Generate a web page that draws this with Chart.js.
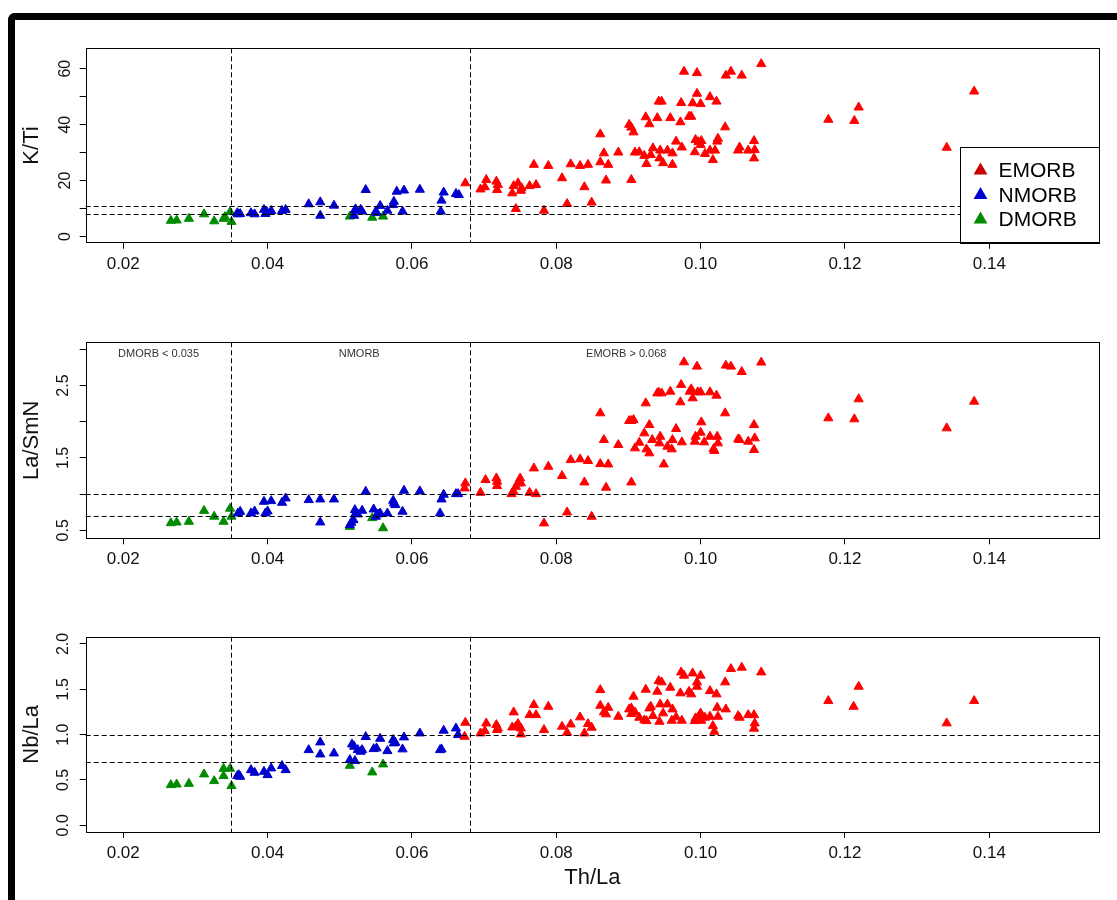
<!DOCTYPE html>
<html>
<head>
<meta charset="utf-8">
<script src="https://cdn.jsdelivr.net/npm/chart.js@4.4.1/dist/chart.umd.min.js"></script>
<style>
  html, body { margin: 0; padding: 0; background: #fff; }
  body { width: 1117px; height: 900px; position: relative; overflow: hidden; }
  #frame { position: absolute; left: 8px; top: 13px; width: 1200px; height: 1000px;
           border-top: 7px solid #000; border-left: 7px solid #000; border-top-left-radius: 7px; }
  canvas { position: absolute; left: 0; }
</style>
</head>
<body>
<div id="frame"></div>
<canvas id="kti" width="1117" height="290" style="top:0px"></canvas>
<canvas id="lasm" width="1117" height="300" style="top:290px"></canvas>
<canvas id="nbla" width="1117" height="310" style="top:590px"></canvas>
<script>
'use strict';

// groups and shared axis values
const groups = ['EMORB', 'NMORB', 'DMORB'];
const xTicks = [0.02, 0.04, 0.06, 0.08, 0.10, 0.12, 0.14];
const boundaries = [0.035, 0.068];

const ktiTicks = [0, 10, 20, 30, 40, 50, 60];
const ktiLabelled = [0, 20, 40, 60];
const ktiCutoffs = [8, 11];

const lasmTicks = [0.5, 1.0, 1.5, 2.0, 2.5, 3.0];
const lasmLabelled = [0.5, 1.5, 2.5];
const lasmCutoffs = [0.7, 1.0];

const nblaTicks = [0.0, 0.5, 1.0, 1.5, 2.0];
const nblaLabelled = [0.0, 0.5, 1.0, 1.5, 2.0];
const nblaCutoffs = [0.7, 1.0];

const regionNotes = ['DMORB < 0.035', 'NMORB', 'EMORB > 0.068'];

// [Th/La, K/Ti]
const ktiDmorb = [[0.0266,5.7],[0.0274,5.8],[0.0291,6.4],[0.0312,8.0],[0.0326,5.5],[0.0339,6.4],[0.0341,7.0],[0.0348,8.8],[0.0350,5.3],[0.0514,7.2],[0.0545,6.8],[0.0560,7.2]];
const ktiNmorb = [[0.0358,8.4],[0.0362,8.1],[0.0359,8.0],[0.0377,8.4],[0.0382,8.0],[0.0395,9.6],[0.0397,8.1],[0.0399,8.8],[0.0405,9.2],[0.0420,9.2],[0.0425,9.6],[0.0457,11.6],[0.0473,12.3],[0.0473,7.5],[0.0492,11.1],[0.0520,7.5],[0.0521,9.4],[0.0522,9.8],[0.0529,9.6],[0.0531,9.0],[0.0536,16.7],[0.0550,9.0],[0.0551,8.5],[0.0556,11.0],[0.0566,9.3],[0.0574,11.3],[0.0575,12.5],[0.0579,16.1],[0.0587,9.0],[0.0589,16.5],[0.0611,16.8],[0.0640,9.0],[0.0641,12.9],[0.0644,15.8],[0.0661,15.3],[0.0665,14.9]];
const ktiEmorb = [[0.0674,19.1],[0.0695,16.9],[0.0701,17.7],[0.0703,20.3],[0.0717,19.7],[0.0719,18.5],[0.0718,16.7],[0.0739,15.5],[0.0741,18.1],[0.0747,19.1],[0.0751,16.4],[0.0752,17.3],[0.0744,9.9],[0.0763,18.1],[0.0772,18.5],[0.0769,25.7],[0.0789,25.3],[0.0783,9.3],[0.0808,20.9],[0.0815,11.7],[0.0820,25.9],[0.0833,25.3],[0.0844,25.7],[0.0839,17.7],[0.0849,12.2],[0.0861,36.6],[0.0861,26.6],[0.0866,29.8],[0.0872,25.7],[0.0869,20.1],[0.0886,30.1],[0.0901,40.0],[0.0904,39.0],[0.0907,37.3],[0.0904,20.3],[0.0909,30.1],[0.0915,30.2],[0.0922,28.9],[0.0931,29.2],[0.0934,31.6],[0.0925,26.0],[0.0924,42.7],[0.0929,40.2],[0.0940,42.4],[0.0942,48.3],[0.0946,48.3],[0.0944,30.8],[0.0943,28.0],[0.0948,26.3],[0.0954,30.8],[0.0961,29.8],[0.0961,25.7],[0.0958,42.4],[0.0966,34.0],[0.0974,31.9],[0.0972,40.9],[0.0973,47.8],[0.0977,59.0],[0.0989,47.7],[0.0984,42.9],[0.0987,42.9],[0.0995,58.5],[0.0995,51.1],[0.1000,47.4],[0.0993,34.6],[0.0997,33.8],[0.1000,32.8],[0.1001,34.2],[0.0992,30.2],[0.1013,49.9],[0.1022,48.3],[0.1006,29.6],[0.1013,30.8],[0.1020,30.8],[0.1017,27.4],[0.1023,34.0],[0.1024,35.0],[0.1034,39.1],[0.1035,57.6],[0.1042,59.0],[0.1057,57.6],[0.1052,30.8],[0.1054,31.9],[0.1066,30.8],[0.1074,34.2],[0.1075,31.0],[0.1074,28.0],[0.1084,61.7],[0.1177,41.8],[0.1213,41.4],[0.1219,46.2],[0.1341,31.8],[0.1379,51.9]];

// [Th/La, La/SmN]
const lasmDmorb = [[0.0266,0.60],[0.0274,0.61],[0.0291,0.62],[0.0312,0.77],[0.0326,0.69],[0.0339,0.62],[0.0348,0.80],[0.0350,0.69],[0.0514,0.55],[0.0545,0.67],[0.0560,0.53]];
const lasmNmorb = [[0.0359,0.735],[0.0362,0.758],[0.0377,0.735],[0.0382,0.762],[0.0395,0.896],[0.0397,0.735],[0.0400,0.762],[0.0405,0.905],[0.0420,0.882],[0.0425,0.942],[0.0457,0.919],[0.0473,0.928],[0.0473,0.610],[0.0492,0.928],[0.0514,0.573],[0.0516,0.606],[0.0519,0.642],[0.0521,0.781],[0.0522,0.735],[0.0525,0.721],[0.0531,0.772],[0.0536,1.034],[0.0547,0.790],[0.0550,0.689],[0.0553,0.721],[0.0556,0.735],[0.0566,0.735],[0.0574,0.910],[0.0575,0.873],[0.0577,0.850],[0.0587,0.758],[0.0589,1.048],[0.0611,1.039],[0.0639,0.735],[0.0641,0.928],[0.0644,0.993],[0.0661,1.002],[0.0664,1.002]];
const lasmEmorb = [[0.0674,1.150],[0.0673,1.080],[0.0695,1.020],[0.0702,1.196],[0.0717,1.219],[0.0718,1.173],[0.0718,1.113],[0.0738,1.002],[0.0741,1.034],[0.0744,1.103],[0.0747,1.150],[0.0750,1.219],[0.0751,1.150],[0.0763,1.020],[0.0772,1.002],[0.0769,1.357],[0.0789,1.380],[0.0783,0.597],[0.0808,1.251],[0.0815,0.749],[0.0820,1.472],[0.0833,1.482],[0.0844,1.459],[0.0839,1.163],[0.0849,0.689],[0.0861,2.118],[0.0861,1.417],[0.0866,1.749],[0.0872,1.412],[0.0869,1.090],[0.0886,1.680],[0.0901,2.012],[0.0904,2.012],[0.0907,2.026],[0.0904,1.163],[0.0909,1.634],[0.0915,1.712],[0.0922,1.841],[0.0925,1.620],[0.0929,1.565],[0.0933,1.749],[0.0924,2.256],[0.0929,1.956],[0.0940,2.394],[0.0942,2.404],[0.0946,2.394],[0.0944,1.795],[0.0943,1.703],[0.0949,1.412],[0.0954,1.657],[0.0961,1.749],[0.0960,1.620],[0.0958,2.417],[0.0966,1.901],[0.0974,1.717],[0.0972,2.270],[0.0973,2.510],[0.0977,2.823],[0.0985,2.417],[0.0987,2.450],[0.0989,2.325],[0.0995,2.763],[0.0996,2.408],[0.1000,2.408],[0.0993,1.795],[0.0992,1.726],[0.1001,1.993],[0.1000,1.850],[0.1005,1.717],[0.1013,2.408],[0.1022,2.362],[0.1013,1.795],[0.1018,1.624],[0.1019,1.597],[0.1023,1.795],[0.1024,1.703],[0.1034,2.118],[0.1035,2.777],[0.1042,2.763],[0.1057,2.689],[0.1052,1.758],[0.1054,1.749],[0.1066,1.726],[0.1074,1.956],[0.1075,1.772],[0.1074,1.611],[0.1084,2.819],[0.1177,2.049],[0.1213,2.035],[0.1219,2.312],[0.1341,1.911],[0.1379,2.279]];

// [Th/La, Nb/La]
const nblaDmorb = [[0.0266,0.445],[0.0274,0.452],[0.0291,0.459],[0.0312,0.563],[0.0326,0.489],[0.0339,0.544],[0.0339,0.625],[0.0348,0.625],[0.0350,0.434],[0.0514,0.658],[0.0545,0.585],[0.0560,0.673]];
const nblaNmorb = [[0.0360,0.555],[0.0362,0.537],[0.0358,0.544],[0.0377,0.610],[0.0382,0.581],[0.0395,0.592],[0.0400,0.555],[0.0405,0.629],[0.0420,0.655],[0.0425,0.610],[0.0457,0.831],[0.0473,0.916],[0.0473,0.783],[0.0492,0.794],[0.0514,0.721],[0.0521,0.710],[0.0517,0.894],[0.0520,0.868],[0.0525,0.831],[0.0529,0.813],[0.0531,0.831],[0.0536,0.975],[0.0547,0.842],[0.0551,0.850],[0.0556,0.956],[0.0566,0.820],[0.0574,0.942],[0.0575,0.905],[0.0577,0.912],[0.0587,0.839],[0.0589,0.971],[0.0611,1.015],[0.0639,0.831],[0.0641,0.839],[0.0644,1.045],[0.0661,1.070],[0.0664,0.997]];
const nblaEmorb = [[0.0674,1.133],[0.0673,0.978],[0.0695,1.015],[0.0701,1.041],[0.0703,1.125],[0.0717,1.107],[0.0719,1.070],[0.0718,1.052],[0.0739,1.081],[0.0741,1.247],[0.0744,1.089],[0.0747,1.118],[0.0751,1.070],[0.0751,1.004],[0.0763,1.217],[0.0772,1.217],[0.0769,1.328],[0.0789,1.309],[0.0783,1.052],[0.0808,1.089],[0.0815,1.022],[0.0820,1.114],[0.0833,1.192],[0.0839,1.015],[0.0844,1.118],[0.0849,1.078],[0.0861,1.493],[0.0861,1.320],[0.0866,1.247],[0.0872,1.298],[0.0869,1.225],[0.0886,1.199],[0.0901,1.280],[0.0904,1.291],[0.0907,1.420],[0.0904,1.229],[0.0909,1.247],[0.0915,1.188],[0.0922,1.159],[0.0924,1.497],[0.0929,1.291],[0.0931,1.309],[0.0934,1.206],[0.0925,1.151],[0.0940,1.475],[0.0942,1.593],[0.0946,1.578],[0.0944,1.335],[0.0943,1.144],[0.0948,1.236],[0.0954,1.335],[0.0961,1.280],[0.0960,1.155],[0.0958,1.519],[0.0966,1.192],[0.0974,1.155],[0.0972,1.457],[0.0973,1.688],[0.0977,1.652],[0.0984,1.475],[0.0987,1.446],[0.0989,1.677],[0.0995,1.530],[0.0995,1.578],[0.1000,1.652],[0.0993,1.181],[0.0997,1.199],[0.1000,1.236],[0.1001,1.155],[0.0992,1.151],[0.1013,1.482],[0.1022,1.446],[0.1006,1.188],[0.1013,1.199],[0.1017,1.096],[0.1019,1.033],[0.1023,1.298],[0.1024,1.199],[0.1034,1.578],[0.1035,1.280],[0.1042,1.725],[0.1057,1.740],[0.1052,1.206],[0.1054,1.188],[0.1066,1.217],[0.1074,1.217],[0.1075,1.125],[0.1074,1.067],[0.1084,1.688],[0.1177,1.372],[0.1212,1.309],[0.1219,1.530],[0.1341,1.126],[0.1379,1.372]];

const pointColors = ['#ff0000', '#0000cd', '#008b00'];
const legendColors = ['#c80000', '#0000cd', '#008b00'];
const fontFamily = '"Liberation Sans", Arial, sans-serif';

Chart.defaults.font.family = fontFamily;
Chart.defaults.color = '#111';

function toPoints(pairs) {
    return pairs.map(p => ({ x: p[0], y: p[1] }));
}

function drawTriangle(ctx, x, y, r, color) {
    ctx.fillStyle = color;
    ctx.beginPath();
    ctx.moveTo(x, y - r);
    ctx.lineTo(x + r * 0.866, y + r / 2);
    ctx.lineTo(x - r * 0.866, y + r / 2);
    ctx.closePath();
    ctx.fill();
}

function makePanel(id, panel) {
    const decor = {
        id: 'decor_' + id,
        afterDatasetsDraw(chart) {
            const ctx = chart.ctx;
            const a = chart.chartArea;
            const xs = chart.scales.x;
            const ys = chart.scales.y;
            ctx.save();
            ctx.strokeStyle = '#000';
            ctx.lineWidth = 1;
            ctx.setLineDash([5, 3]);
            boundaries.forEach(v => {
                const px = Math.round(xs.getPixelForValue(v)) + 0.5;
                ctx.beginPath();
                ctx.moveTo(px, a.top);
                ctx.lineTo(px, a.bottom);
                ctx.stroke();
            });
            panel.cutoffs.forEach(v => {
                const py = Math.round(ys.getPixelForValue(v)) + 0.5;
                ctx.beginPath();
                ctx.moveTo(a.left, py);
                ctx.lineTo(a.right, py);
                ctx.stroke();
            });
            ctx.setLineDash([]);

            if (panel.notes) {
                ctx.fillStyle = '#333';
                ctx.font = '11px ' + fontFamily;
                ctx.textAlign = 'center';
                ctx.textBaseline = 'middle';
                panel.notes.forEach((t, i) => {
                    ctx.fillText(t, xs.getPixelForValue(panel.noteX[i]), ys.getPixelForValue(panel.noteY));
                });
            }

            if (panel.legend) {
                const w = 139, h = 96;
                const left = Math.round(a.right - w) + 0.5;
                const top = Math.round(a.bottom - h) + 0.5;
                ctx.fillStyle = '#fff';
                ctx.fillRect(left, top, w, h);
                ctx.strokeStyle = '#000';
                ctx.strokeRect(left, top, w, h);
                ctx.font = '21px ' + fontFamily;
                ctx.textAlign = 'left';
                ctx.textBaseline = 'middle';
                groups.forEach((g, i) => {
                    const cy = top + 23 + i * 24.5;
                    drawTriangle(ctx, left + 20, cy, 8, legendColors[i]);
                    ctx.fillStyle = '#000';
                    ctx.fillText(g, left + 38, cy + 1);
                });
            }

            ctx.strokeStyle = '#000';
            ctx.strokeRect(Math.round(a.left) + 0.5, Math.round(a.top) + 0.5,
                Math.round(a.right - a.left), Math.round(a.bottom - a.top));
            ctx.restore();
        }
    };

    const datasets = panel.series.map((s, i) => ({
        label: groups[i],
        data: toPoints(s),
        pointStyle: 'triangle',
        pointRadius: 5.3,
        pointBackgroundColor: pointColors[i],
        pointBorderColor: pointColors[i],
        pointBorderWidth: 1
    }));

    return new Chart(document.getElementById(id), {
        type: 'scatter',
        data: { datasets: datasets },
        options: {
            responsive: false,
            animation: false,
            devicePixelRatio: 1,
            events: [],
            layout: { padding: { top: panel.top, right: 18, left: 0, bottom: 0 } },
            plugins: { legend: { display: false }, tooltip: { enabled: false } },
            scales: {
                x: {
                    type: 'linear',
                    min: 0.0148,
                    max: 0.1552,
                    afterBuildTicks: s => { s.ticks = xTicks.map(v => ({ value: v })); },
                    afterFit: s => { s.height = panel.xHeight; },
                    grid: { drawOnChartArea: false, tickLength: 6, color: '#000' },
                    border: { display: false },
                    ticks: {
                        autoSkip: false, maxRotation: 0, padding: 5,
                        font: { size: 17 },
                        callback: v => v.toFixed(2)
                    },
                    title: {
                        display: !!panel.xTitle, text: panel.xTitle || '',
                        font: { size: 22 }, padding: { top: 0, bottom: 9 }
                    }
                },
                y: {
                    type: 'linear',
                    min: panel.yMin,
                    max: panel.yMax,
                    afterBuildTicks: s => { s.ticks = panel.ticks.map(v => ({ value: v })); },
                    afterFit: s => { s.width = 85.7; },
                    grid: { drawOnChartArea: false, tickLength: 6, color: '#000' },
                    border: { display: false },
                    ticks: {
                        autoSkip: false, minRotation: 90, maxRotation: 90,
                        crossAlign: 'center', padding: panel.tickPad,
                        font: { size: 16 },
                        callback: v => panel.labelled.some(l => Math.abs(l - v) < 1e-9) ? v.toFixed(panel.decimals) : ''
                    },
                    title: {
                        display: true, text: panel.yTitle,
                        font: { size: 22 }, padding: { top: 19, bottom: 0 }
                    }
                }
            }
        },
        plugins: [decor]
    });
}

makePanel('kti', {
    series: [ktiEmorb, ktiNmorb, ktiDmorb],
    ticks: ktiTicks, labelled: ktiLabelled, decimals: 0,
    yMin: -2.2, yMax: 67.3, cutoffs: ktiCutoffs,
    yTitle: 'K/Ti', top: 48.3, xHeight: 47.3, tickPad: 5, legend: true
});

makePanel('lasm', {
    series: [lasmEmorb, lasmNmorb, lasmDmorb],
    ticks: lasmTicks, labelled: lasmLabelled, decimals: 1,
    yMin: 0.389, yMax: 3.097, cutoffs: lasmCutoffs,
    yTitle: 'La/SmN', top: 52.3, xHeight: 51.7, tickPad: 5,
    notes: regionNotes, noteX: [0.0249, 0.0527, 0.0897], noteY: 2.94
});

makePanel('nbla', {
    series: [nblaEmorb, nblaNmorb, nblaDmorb],
    ticks: nblaTicks, labelled: nblaLabelled, decimals: 1,
    yMin: -0.074, yMax: 2.08, cutoffs: nblaCutoffs,
    yTitle: 'Nb/La', top: 46.7, xHeight: 68, tickPad: 5,
    xTitle: 'Th/La'
});
</script>
</body>
</html>
